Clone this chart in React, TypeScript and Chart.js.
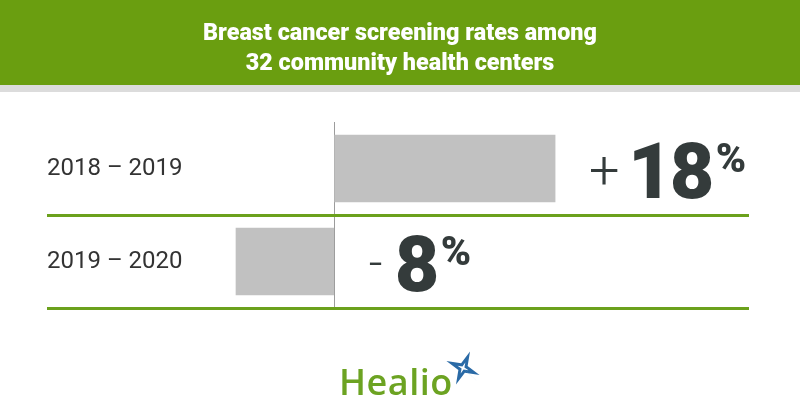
import React, { useEffect, useRef } from "react";
import { Chart, registerables } from "chart.js";

Chart.register(...registerables);

const titleLines = ["Breast cancer screening rates among", "32 community health centers"];
const periods = ["2018 – 2019", "2019 – 2020"];
const changes = [18, -8];
const brandName = "Healio";

const GREEN = "#6a9e10";
const LINE_GREEN = "#6ba11c";
const BAR_GRAY = "#c1c1c1";
const DARK = "#343b3b";

const bannerPlugin = {
  id: "banner",
  beforeDraw(chart: any) {
    const ctx: CanvasRenderingContext2D = chart.ctx;
    ctx.save();
    ctx.fillStyle = "#ffffff";
    ctx.fillRect(0, 0, chart.width, chart.height);
    ctx.fillStyle = GREEN;
    ctx.fillRect(0, 0, chart.width, 85);
    ctx.fillStyle = "#dcdcdc";
    ctx.fillRect(0, 85, chart.width, 7);
    // title, condensed
    ctx.font = "900 23px Roboto";
    ctx.fillStyle = "#ffffff";
    ctx.textAlign = "center";
    ctx.textBaseline = "alphabetic";
    const w = ctx.measureText(titleLines[0]).width;
    const sx = 394 / w;
    titleLines.forEach((line, i) => {
      ctx.save();
      ctx.translate(chart.width / 2, 39.5 + i * 30);
      ctx.scale(sx, 1.08);
      ctx.fillText(line, 0, 0);
      ctx.restore();
    });
    ctx.restore();
  },
};

function glyphBox(ctx: CanvasRenderingContext2D, text: string) {
  const m = ctx.measureText(text);
  return {
    left: m.actualBoundingBoxLeft,
    right: m.actualBoundingBoxRight,
    ascent: m.actualBoundingBoxAscent,
    descent: m.actualBoundingBoxDescent,
  };
}

const valueLabelPlugin = {
  id: "valueLabels",
  afterDatasetsDraw(chart: any) {
    const ctx: CanvasRenderingContext2D = chart.ctx;
    const meta = chart.getDatasetMeta(0);
    const values: number[] = chart.data.datasets[0].data;
    ctx.save();
    ctx.fillStyle = DARK;
    ctx.textBaseline = "alphabetic";
    ctx.textAlign = "left";
    meta.data.forEach((el: any, i: number) => {
      const v = values[i];
      const cy = el.y + 2;
      let x = Math.max(el.x, el.base) + 36;
      // sign
      const sign = v >= 0 ? "+" : "-";
      ctx.font = v >= 0 ? "300 54px Roboto" : "300 48px Roboto";
      const sb = glyphBox(ctx, sign);
      ctx.fillText(sign, x + sb.left, cy + (sb.ascent - sb.descent) / 2);
      x += sb.left + sb.right + 16;
      // number
      const num = String(Math.abs(v));
      ctx.font = "900 77px Roboto";
      (ctx as any).letterSpacing = "-3px";
      const nb = glyphBox(ctx, num);
      const base = cy + (nb.ascent - nb.descent) / 2;
      ctx.fillText(num, x + nb.left, base);
      const top = base - nb.ascent;
      x += nb.left + nb.right + 5;
      (ctx as any).letterSpacing = "0px";
      // percent
      ctx.font = "900 41px Roboto";
      const pb = glyphBox(ctx, "%");
      ctx.fillText("%", x + pb.left, top + 1 + pb.ascent);
    });
    ctx.restore();
  },
};

const logoPlugin = {
  id: "logo",
  afterDraw(chart: any) {
    const ctx: CanvasRenderingContext2D = chart.ctx;
    ctx.save();
    ctx.font = "600 36px 'Open Sans'";
    (ctx as any).letterSpacing = "0.5px";
    ctx.fillStyle = "#6ca322";
    ctx.textBaseline = "alphabetic";
    ctx.textAlign = "left";
    ctx.fillText(brandName, 339, 395);
    (ctx as any).letterSpacing = "0px";
    // star mark
    const cx = 463;
    const cy = 368;
    const drawStar = (r: number, ri: number, rot: number, color: string) => {
      ctx.beginPath();
      for (let k = 0; k < 8; k++) {
        const a = rot + (k * Math.PI) / 4;
        const rr = k % 2 === 0 ? r : ri;
        const px = cx + Math.cos(a) * rr;
        const py = cy + Math.sin(a) * rr;
        if (k === 0) ctx.moveTo(px, py);
        else ctx.lineTo(px, py);
      }
      ctx.closePath();
      ctx.fillStyle = color;
      ctx.fill();
    };
    drawStar(18, 5, -Math.PI / 2 + 0.4, "#2a6aa6");
    // long light ray
    ctx.beginPath();
    ctx.moveTo(cx - 2, cy - 2);
    ctx.lineTo(cx + 16, cy + 15);
    ctx.lineTo(cx + 2, cy + 2);
    ctx.closePath();
    ctx.fillStyle = "#5ea6d8";
    ctx.fill();
    drawStar(6, 1.5, -Math.PI / 2 + 0.4, "#ffffff");
    ctx.restore();
  },
};

export default function App() {
  const canvasRef = useRef<HTMLCanvasElement | null>(null);

  useEffect(() => {
    if (!canvasRef.current) return;
    const chart = new Chart(canvasRef.current, {
      type: "bar",
      data: {
        labels: periods,
        datasets: [
          {
            data: changes,
            backgroundColor: BAR_GRAY,
            borderWidth: 0,
            barThickness: 67,
          },
        ],
      },
      options: {
        indexAxis: "y",
        animation: false,
        responsive: false,
        layout: {
          padding: { left: 47, right: 51, top: 122, bottom: 112 },
        },
        plugins: {
          legend: { display: false },
          tooltip: { enabled: false },
          title: { display: false },
        },
        scales: {
          x: {
            type: "linear",
            min: -23.4,
            max: 33.8,
            afterBuildTicks: (scale: any) => {
              scale.ticks = [{ value: 0 }];
            },
            ticks: { display: false },
            border: { display: false },
            grid: {
              drawTicks: false,
              lineWidth: 1,
              color: (ctx: any) => (ctx.tick && ctx.tick.value === 0 ? "#9c9c9c" : "transparent"),
            },
          },
          y: {
            type: "category",
            ticks: {
              mirror: true,
              padding: 0,
              color: "#333333",
              font: { family: "Roboto", size: 24 },
            },
            border: { display: false },
            grid: {
              offset: true,
              drawTicks: false,
              lineWidth: 3,
              color: (ctx: any) => (ctx.index === 0 ? "transparent" : LINE_GREEN),
            },
          },
        },
      },
      plugins: [bannerPlugin, valueLabelPlugin, logoPlugin],
    } as any);
    return () => chart.destroy();
  }, []);

  return (
    <div style={{ position: "absolute", left: 0, top: 0, width: 800, height: 420 }}>
      <canvas ref={canvasRef} width={800} height={420} style={{ display: "block" }} />
    </div>
  );
}
